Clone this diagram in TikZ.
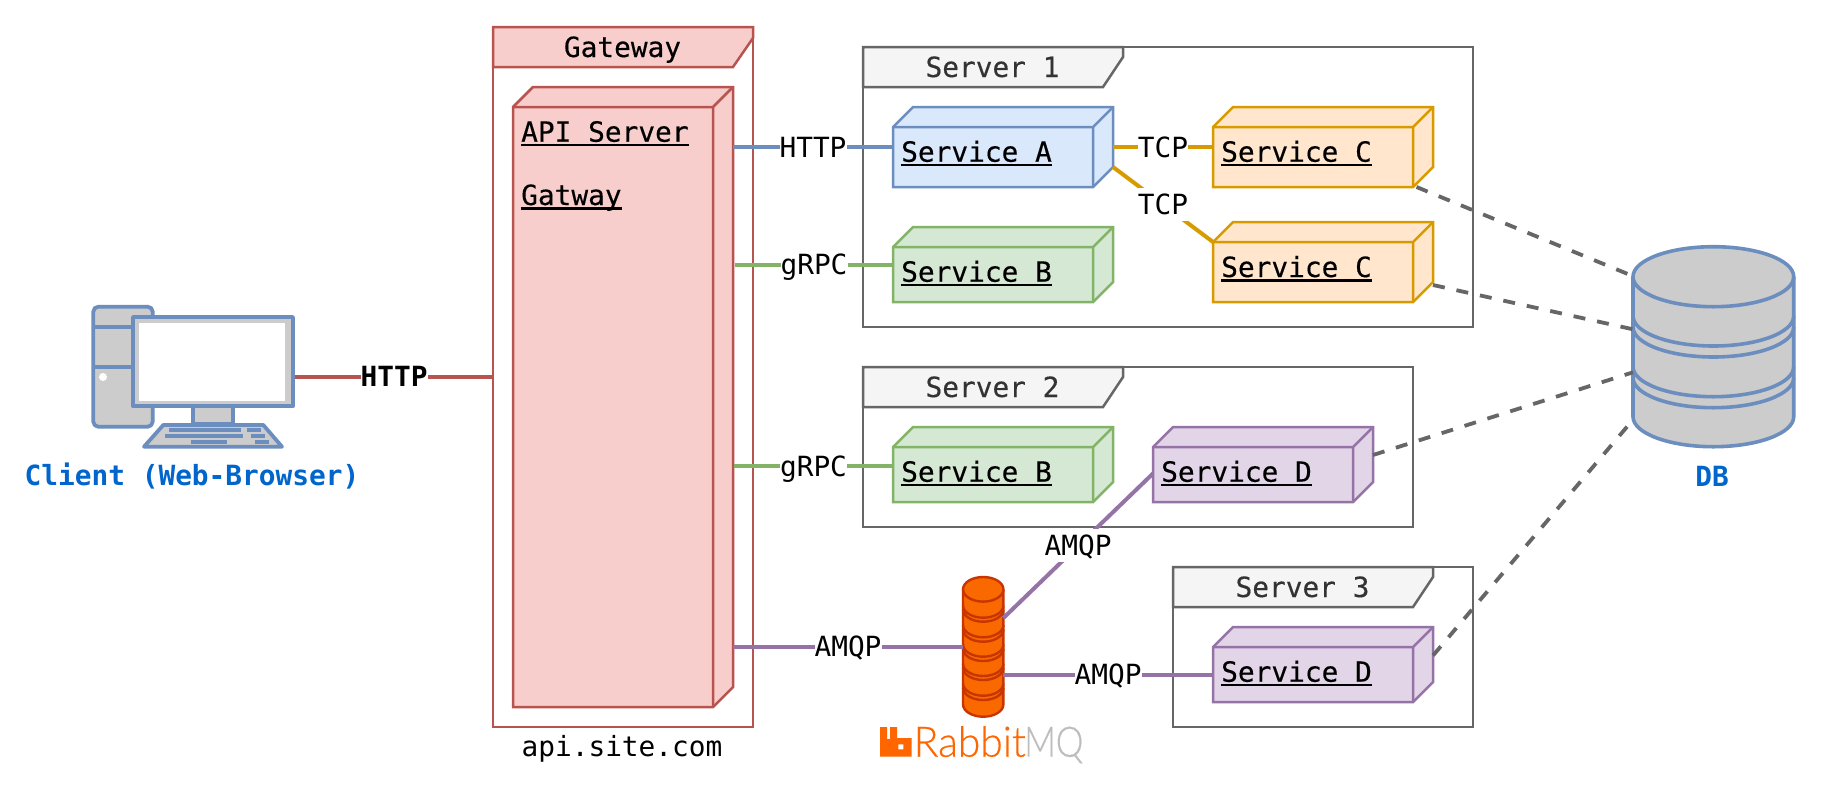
\documentclass[tikz,border=0pt]{standalone}
\usepackage{fontspec}
\setmainfont{DejaVu Sans Mono}
\newfontfamily\semimono{DejaVu Sans Mono}[FakeBold=0.35]
\newfontfamily\logofont{Lato}[UprightFont=* Light,FakeBold=0.4]
\newcommand{\ul}[1]{\setbox0\hbox{\semimono #1}\rlap{\rule[-4.5pt]{\wd0}{2.2pt}}\box0}
\definecolor{redS}{HTML}{B85450}\definecolor{redF}{HTML}{F8CECC}
\definecolor{blueS}{HTML}{6C8EBF}\definecolor{blueF}{HTML}{DAE8FC}
\definecolor{greenS}{HTML}{82B366}\definecolor{greenF}{HTML}{D5E8D4}
\definecolor{amberS}{HTML}{D79B00}\definecolor{amberF}{HTML}{FFE6CC}
\definecolor{purpS}{HTML}{9673A6}\definecolor{purpF}{HTML}{E1D5E7}
\definecolor{greyS}{HTML}{666666}\definecolor{greyF}{HTML}{F5F5F5}
\definecolor{greyT}{HTML}{333333}\definecolor{mqS}{HTML}{C73500}\definecolor{mqF}{HTML}{FA6800}
\definecolor{logoO}{HTML}{FF6600}\definecolor{logoG}{HTML}{BDBDBD}
\definecolor{capt}{HTML}{0066CC}\definecolor{dbF}{HTML}{CCCCCC}
\tikzset{
  x=1pt,y=-1pt,
  txt/.style={font=\fontsize{27.8}{30}\selectfont,inner sep=0pt,text=black},
  lab/.style={txt,fill=white,text height=20pt,text depth=0pt,minimum height=33pt,minimum width=67pt},
  lab3/.style={lab,minimum width=50pt},
  edge/.style={line width=4pt},
  dashline/.style={line width=3.8pt,draw=greyS,dash pattern=on 12pt off 12pt},
  region/.style={draw,line width=2.5pt,inner sep=0pt,outer sep=0pt,anchor=north west},
  phantomnode/.style={inner sep=0pt,outer sep=0pt,anchor=north west},
  cuberedc/.style={fill=redF,draw=redS},
  cubeblue/.style={fill=blueF,draw=blueS},
  cubegreen/.style={fill=greenF,draw=greenS},
  cubeamber/.style={fill=amberF,draw=amberS},
  cubepurple/.style={fill=purpF,draw=purpS},
  svc/.style={txt,anchor=base west},
  hdr/.style={line width=2.5pt,fill=greyF,draw=greyS},
  icon/.style={line width=3.8pt,draw=blueS,fill=dbF,line join=round},
  key/.style={fill=blueS,draw=none},
  caption/.style={txt,text=capt,font=\fontsize{27.8}{30}\selectfont\bfseries},
}
% name, style, front left, front top, front right, front bottom
\newcommand{\cubeshape}[6]{%
  \draw[#2,line width=2.5pt,line join=miter]
    (#3,#4) -- (#3+20,#4-20) -- (#5+20,#4-20) -- (#5+20,#6-20) -- (#5,#6) -- (#3,#6) -- cycle;
  \draw[#2,line width=2.5pt,fill=none] (#3,#4) -- (#5,#4) -- (#5,#6) (#5,#4) -- (#5+20,#4-20);
  \node[phantomnode,minimum width={(#5+20-#3)*1pt},minimum height={(#6-#4+20)*1pt}] (#1) at (#3,#4-20) {};
}
% name, text, left, top, right, bottom
\newcommand{\server}[6]{%
  \node[region,draw=greyS,minimum width={(#5-#3)*1pt},minimum height={(#6-#4)*1pt}] (#1) at (#3,#4) {};
  \draw[hdr] (#3,#4) -- (#3+260,#4) -- (#3+260,#4+10) -- (#3+240,#4+40) -- (#3,#4+40) -- cycle;
  \node[txt,text=greyT,text height=20pt,text depth=0pt] (#1-title) at (#3+129.5,#4+20) {\semimono #2};
}
\begin{document}
\begin{tikzpicture}
\useasboundingbox (0,0) rectangle (1830,804);
\fill[white] (0,0) rectangle (1830,804);

% Gateway
\node[region,draw=redS,minimum width=260pt,minimum height=700pt] (gateway) at (493,27) {};
\draw[line width=2.5pt,fill=redF,draw=redS] (493,27) -- (753,27) -- (753,38) -- (733,67) -- (493,67) -- cycle;
\node[txt,text height=20pt,text depth=0pt] (gatewaytitle) at (622.5,47) {\semimono Gateway};
\cubeshape{api}{cuberedc}{513}{107}{713}{707}
\node[svc] (apitext) at (521,141.7) {\ul{API Server}};
\node[svc] (gatwaytext) at (521,205) {\ul{Gatway}};
\node[txt] (gatewayhost) at (622,749) {api.site.com};

% Servers
\server{serverone}{Server 1}{863}{47}{1473}{327}
\server{servertwo}{Server 2}{863}{367}{1413}{527}
\server{serverthree}{Server 3}{1173}{567}{1473}{727}

% Services
\cubeshape{svcA}{cubeblue}{893}{127}{1093}{187}
\node[svc] (svcAt) at (901,161.7) {\ul{Service A}};
\cubeshape{svcB}{cubegreen}{893}{247}{1093}{302}
\node[svc] (svcBt) at (901,281.7) {\ul{Service B}};
\cubeshape{svcCa}{cubeamber}{1213}{127}{1413}{187}
\node[svc] (svcCat) at (1221,161.7) {\ul{Service C}};
\cubeshape{svcCb}{cubeamber}{1213}{242}{1413}{302}
\node[svc] (svcCbt) at (1221,277) {\ul{Service C}};
\cubeshape{svcBb}{cubegreen}{893}{447}{1093}{502}
\node[svc] (svcBbt) at (901,481.7) {\ul{Service B}};
\cubeshape{svcDa}{cubepurple}{1153}{447}{1353}{502}
\node[svc] (svcDat) at (1161,481.7) {\ul{Service D}};
\cubeshape{svcDb}{cubepurple}{1213}{647}{1413}{702}
\node[svc] (svcDbt) at (1221,681.7) {\ul{Service D}};

% Client icon
\node[phantomnode,minimum width=203.5pt,minimum height=143pt] (client) at (91.7,305) {};
\draw[icon,rounded corners=5pt] (93.3,306.7) rectangle (152.7,426.7);
\draw[icon] (93.3,326.7) -- (133,326.7) (93.3,366.7) -- (133,366.7);
\fill[white] (103,377) circle[radius=4pt];
\draw[icon] (192.7,406) rectangle (233,424);
\draw[icon] (133,317) rectangle (293,406.3);
\fill[white] (138.7,322.7) rectangle (285.3,401);
\draw[icon] (163.3,425) -- (263.3,425) -- (282,446.7) -- (144,446.7) -- cycle;
\fill[key] (169,428) rectangle (241,432);
\fill[key] (247,428) rectangle (261,432);
\fill[key] (165,434) rectangle (243,438);
\fill[key] (251,434) rectangle (265,438);
\fill[key] (191,440) rectangle (227,444);
\fill[key] (255,440) rectangle (269,444);
\node[caption] (clientlabel) at (192,476.5) {Client (Web-Browser)};

% Database
\node[phantomnode,minimum width=160.7pt,minimum height=200pt] (db) at (1633,246.7) {};
\draw[line width=3.6pt,draw=blueS,fill=dbF]
  (1633,276.7) -- (1633,416.7) arc[start angle=180,end angle=360,x radius=80.35pt,y radius=30pt]
  -- (1793.7,276.7) arc[start angle=0,end angle=180,x radius=80.35pt,y radius=30pt] -- cycle;
\foreach \c in {276.7,316,327,366.7,377.7}
  \draw[line width=3.6pt,draw=blueS] (1633,\c) arc[start angle=180,end angle=360,x radius=80.35pt,y radius=30pt];
\node[caption] (dblabel) at (1712,476.5) {DB};

% RabbitMQ queue
\node[phantomnode,minimum width=40.4pt,minimum height=139.7pt] (mq) at (963,577) {};
\draw[line width=2.4pt,draw=mqS,fill=mqF]
  (963,589.3) -- (963,704.4) arc[start angle=180,end angle=360,x radius=20.2pt,y radius=12.3pt]
  -- (1003.4,589.3) arc[start angle=0,end angle=180,x radius=20.2pt,y radius=12.3pt] -- cycle;
\foreach \c in {589.3,605.4,609.4,625,629.4,644.4,648.7,663.7,667.7,683.4,687.7}
  \draw[line width=2.4pt,draw=mqS] (963,\c) arc[start angle=180,end angle=360,x radius=20.2pt,y radius=12.3pt];

% RabbitMQ logo
\fill[logoO,even odd rule] (880,727) -- (887,727) -- (887,739) -- (890,739) -- (890,727) -- (897,727)
  -- (897,738) -- (911.5,738) -- (911.5,756.7) -- (880,756.7) -- cycle
  (898.3,744.3) rectangle (903.3,749.3);
\node[anchor=base west,inner sep=0pt,xscale=.97,font=\logofont\fontsize{42}{44}\selectfont,text=logoO] (logorabbit) at (913.5,756.7) {Rabbit};
\node[anchor=base west,inner sep=0pt,xscale=.83,font=\logofont\fontsize{42}{44}\selectfont,text=logoG] (logomq) at (1024,756.7) {MQ};

% Connectors
\draw[edge,draw=redS] (client.east) -- (client.east -| gateway.west) node[lab,midway,font=\fontsize{27.8}{30}\selectfont\bfseries] (httpa) {HTTP};
\draw[edge,draw=blueS] (api.east |- svcA.west) -- (svcA.west) node[lab,midway] (httpb) {HTTP};
\draw[edge,draw=greenS] ([xshift=2pt]api.east |- svcB.west) -- (svcB.west) node[lab,midway] (grpca) {gRPC};
\draw[edge,draw=greenS] ([xshift=1pt,yshift=-1.5pt]api.east |- svcBb.west) -- ([yshift=-1.5pt]svcBb.west) node[lab,midway] (grpcb) {gRPC};
\draw[edge,draw=amberS] (svcA.east) -- (svcCa.west) node[lab3,midway] (tcpa) {TCP};
\draw[edge,draw=amberS] ([yshift=20pt]svcA.south east) -- ([yshift=-20pt]svcCb.north west) node[lab3,midway] (tcpb) {TCP};
\draw[edge,draw=purpS] (api.east |- mq.west) -- (mq.west) node[lab,midway] (amqpa) {AMQP};
\draw[edge,draw=purpS] ([yshift=-41pt]mq.north east) -- ([yshift=-9pt]svcDa.west) node[lab,midway] (amqpb) {AMQP};
\draw[edge,draw=purpS] ([yshift=-27.8pt]mq.east) -- ([yshift=-27.8pt]mq.east -| svcDb.west) node[lab,midway] (amqpc) {AMQP};

\draw[dashline] ([xshift=-16.5pt]svcCa.south east) -- ([xshift=-3.5pt,yshift=-28pt]db.north west);
\draw[dashline] ([yshift=17pt]svcCb.south east) -- ([yshift=-82.6pt]db.north west);
\draw[dashline] ([yshift=-28pt]svcDa.north east) -- ([yshift=-125.6pt]db.north west);
\draw[dashline] ([yshift=-28.5pt]svcDb.north east) -- ([xshift=-4.5pt,yshift=-178.3pt]db.north west);
\end{tikzpicture}
\end{document}
